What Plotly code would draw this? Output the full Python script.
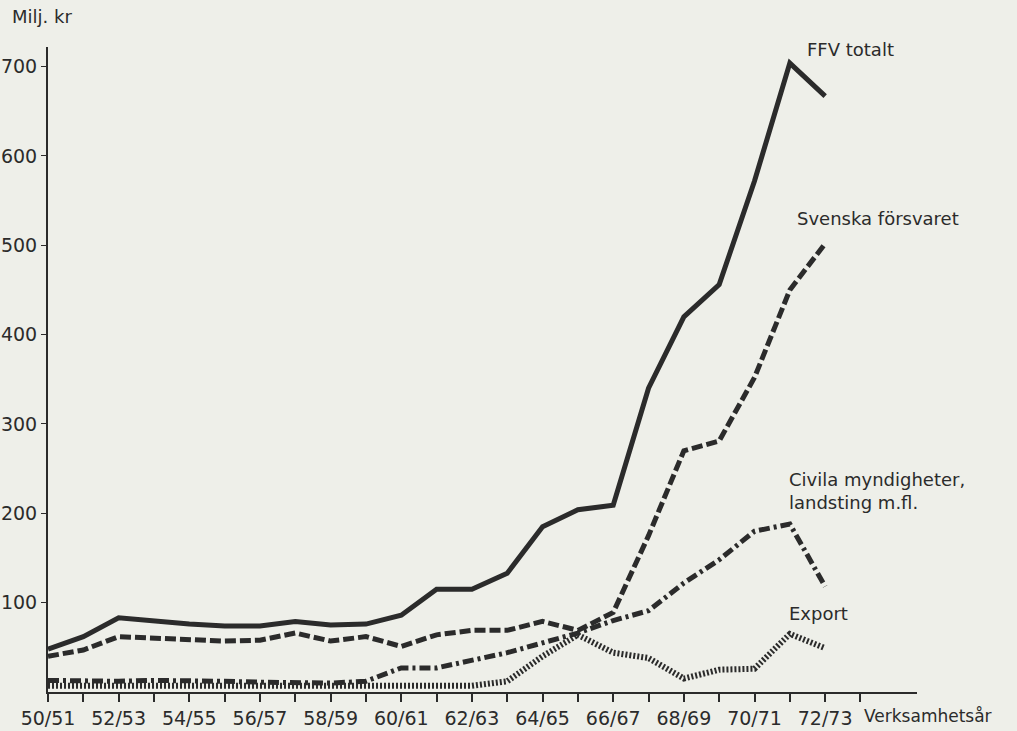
import plotly.graph_objects as go

# ---- data ----
years = ["50/51", "51/52", "52/53", "53/54", "54/55", "55/56", "56/57", "57/58",
         "58/59", "59/60", "60/61", "61/62", "62/63", "63/64", "64/65", "65/66",
         "66/67", "67/68", "68/69", "69/70", "70/71", "71/72", "72/73"]
tick_labels = [y if i % 2 == 0 else "" for i, y in enumerate(years)] + [""]

ffv_totalt = [48, 62, 83, 79, 76, 74, 74, 79, 75, 76, 86, 115, 115, 133, 185, 204,
              209, 340, 420, 456, 572, 704, 667]
svenska_forsvaret = [40, 47, 62, 60, 58, 57, 58, 66, 57, 62, 51, 64, 69, 69, 79, 69,
                     89, 175, 270, 281, 352, 450, 502]
civila = [13, 12, 12, 13, 13, 12, 11, 10, 10, 12, 27, 27, 36, 44, 55, 66,
          80, 91, 122, 148, 180, 188, 118]
export = [7, 7, 7, 7, 7, 7, 7, 7, 7, 7, 7, 6, 7, 12, 40, 64,
          44, 38, 15, 25, 26, 65, 49]

y_ticks = [100, 200, 300, 400, 500, 600, 700]

# ---- style ----
BG = "#eeefe9"
INK = "#2b2b2b"
FONT = "DejaVu Sans, Liberation Sans, sans-serif"

W, H = 1017, 731
L, R, T, B = 48, 917, 47, 692  # plot area in pixels


def px(x):
    return (x - L) / (R - L)


def py(y):
    return (B - y) / (B - T)


xs = list(range(len(years)))

fig = go.Figure()
fig.add_trace(go.Scatter(x=xs, y=ffv_totalt, mode="lines", name="FFV totalt",
                         line=dict(color=INK, width=5, dash="solid")))
fig.add_trace(go.Scatter(x=xs, y=svenska_forsvaret, mode="lines", name="Svenska försvaret",
                         line=dict(color=INK, width=5, dash="11px,4px")))
fig.add_trace(go.Scatter(x=xs, y=civila, mode="lines", name="Civila myndigheter, landsting m.fl.",
                         line=dict(color=INK, width=5, dash="11px,4px,3px,4px")))
fig.add_trace(go.Scatter(x=xs, y=export, mode="lines", name="Export",
                         line=dict(color=INK, width=6, dash="2px,2px")))

annots = [
    ("FFV totalt", 805, 49),
    ("Svenska försvaret", 795, 218),
    ("Civila myndigheter,<br>landsting m.fl.", 787, 491),
    ("Export", 787, 613),
]
for text, x, y in annots:
    fig.add_annotation(text=text, x=px(x), y=py(y), xref="paper", yref="paper",
                       xanchor="left", yanchor="middle", showarrow=False, align="left",
                       font=dict(family=FONT, size=18, color=INK))

fig.add_annotation(text="Milj. kr", x=px(10), y=py(17), xref="paper", yref="paper",
                   xanchor="left", yanchor="middle", showarrow=False,
                   font=dict(family=FONT, size=18, color=INK))
fig.add_annotation(text="Verksamhetsår", x=px(862), y=py(716), xref="paper", yref="paper",
                   xanchor="left", yanchor="middle", showarrow=False,
                   font=dict(family=FONT, size=17, color=INK))

fig.update_layout(
    width=W, height=H,
    margin=dict(l=L, r=W - R, t=T, b=H - B, pad=0),
    paper_bgcolor=BG, plot_bgcolor=BG,
    showlegend=False,
    font=dict(family=FONT, size=18, color=INK),
)
fig.update_xaxes(
    range=[0, 24.6], tickmode="array", tickvals=list(range(len(tick_labels))),
    ticktext=tick_labels, ticks="outside", ticklen=8, tickwidth=1.5, tickcolor=INK,
    showline=True, linecolor=INK, linewidth=2, showgrid=False, zeroline=False,
    automargin=False, tickfont=dict(family=FONT, size=19, color=INK),
)
fig.update_yaxes(
    range=[0, 722], tickmode="array", tickvals=y_ticks, ticks="outside", ticklen=5,
    tickwidth=1, tickcolor=INK, showline=True, linecolor=INK, linewidth=2,
    showgrid=False, zeroline=False, automargin=False,
    tickfont=dict(family=FONT, size=19, color=INK),
)

fig.write_html(
    "out.html",
    config={"displayModeBar": False},
    post_script="document.body.style.margin='0';document.body.style.background='%s';" % BG,
)
